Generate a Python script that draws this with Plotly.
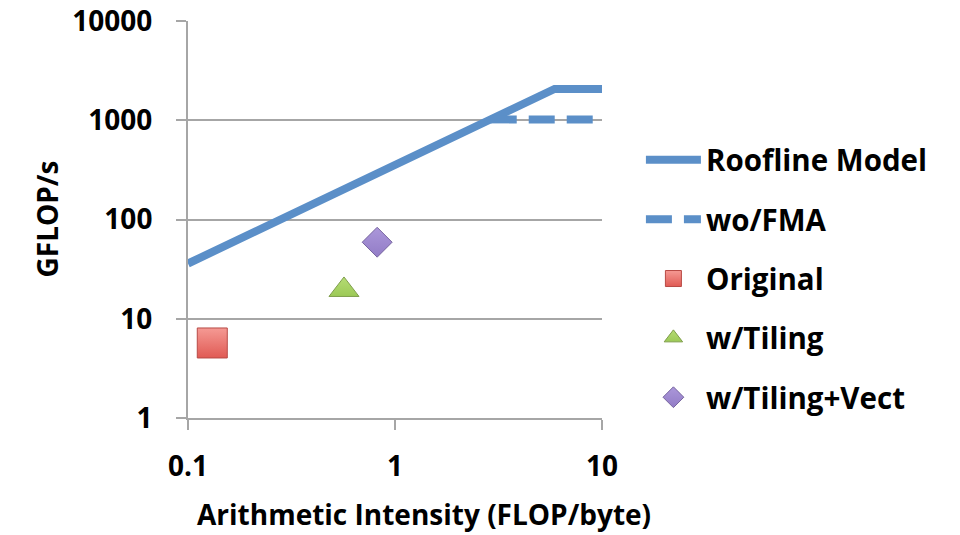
import plotly.graph_objects as go

# Data
roof_x = [0.1, 5.9, 10]
roof_y = [36, 2070, 2070]
nofma_x = [2.9, 10]
nofma_y = [1020, 1020]
orig_x, orig_y = [0.131], [5.7]
tile_x, tile_y = [0.567], [19.5]
vect_x, vect_y = [0.82], [59.0]

x_ticks = [0.1, 1, 10]
x_ticktext = ["0.1", "1", "10"]
y_ticks = [1, 10, 100, 1000, 10000]
y_ticktext = ["1", "10", "100", "1000", "10000"]
x_title = "Arithmetic Intensity (FLOP/byte)"
y_title = "GFLOP/s"

BLUE = "#5b8fc8"
FONT = "Open Sans"

fig = go.Figure()
fig.add_trace(go.Scatter(x=roof_x, y=roof_y, mode="lines", name="Roofline Model",
                         legendgroup="a",
                         line=dict(color=BLUE, width=8)))
fig.add_trace(go.Scatter(x=nofma_x, y=nofma_y, mode="lines", name="wo/FMA",
                         legendgroup="b",
                         line=dict(color=BLUE, width=8, dash="26px,12px")))
fig.add_trace(go.Scatter(x=orig_x, y=orig_y, mode="markers", name="Original",
                         legendgroup="c",
                         marker=dict(symbol="square", size=30, color="#f59a94",
                                     gradient=dict(type="vertical", color="#e05a54"),
                                     line=dict(color="#b84a45", width=1))))
fig.add_trace(go.Scatter(x=tile_x, y=tile_y, mode="markers", name="w/Tiling",
                         legendgroup="d",
                         marker=dict(symbol="triangle-up", size=26, color="#b5dc74",
                                     gradient=dict(type="vertical", color="#9cc956"),
                                     line=dict(color="#7f9e4c", width=1))))
fig.add_trace(go.Scatter(x=vect_x, y=vect_y, mode="markers", name="w/Tiling+Vect",
                         legendgroup="e",
                         marker=dict(symbol="diamond", size=23, color="#ab97da",
                                     gradient=dict(type="vertical", color="#927cc6"),
                                     line=dict(color="#76649f", width=1))))

fig.update_layout(
    width=960, height=535,
    margin=dict(l=188, r=358, t=21, b=117, autoexpand=False),
    paper_bgcolor="white", plot_bgcolor="white",
    font=dict(family=FONT, size=26, color="black", weight="bold"),
    legend=dict(x=1.094, y=0.715, xanchor="left", yanchor="top",
                font=dict(family=FONT, size=29.5, color="black", weight="bold"),
                itemwidth=55,
                tracegroupgap=18, bgcolor="rgba(0,0,0,0)"),
    showlegend=True,
    annotations=[
        dict(text=x_title, xref="paper", yref="paper", x=0.570, y=-0.242,
             xanchor="center", yanchor="middle", showarrow=False,
             font=dict(family=FONT, size=28, color="black", weight="bold")),
        dict(text=y_title, xref="paper", yref="paper", x=(46 - 188) / 414, y=0.5,
             xanchor="center", yanchor="middle", showarrow=False, textangle=-90,
             font=dict(family=FONT, size=28, color="black", weight="bold")),
    ],
)
fig.update_xaxes(type="log", range=[-1, 1], tickvals=x_ticks, ticktext=x_ticktext,
                 showgrid=False, showline=True, linecolor="#a6a6a6", linewidth=2,
                 ticks="outside", ticklen=10, tickwidth=2, tickcolor="#a6a6a6",
                 ticklabelstandoff=12, automargin=False,
                 tickfont=dict(size=28, weight="bold"),
                 zeroline=False)
fig.update_yaxes(type="log", range=[0, 4], tickvals=y_ticks, ticktext=y_ticktext,
                 showgrid=True, gridcolor="#a6a6a6", gridwidth=2,
                 showline=True, linecolor="#a6a6a6", linewidth=2,
                 ticks="outside", ticklen=10, tickwidth=2, tickcolor="#a6a6a6",
                 ticklabelstandoff=18, automargin=False,
                 tickfont=dict(size=28, weight="bold"),
                 zeroline=False)

fig.write_html("out.html", config={"displayModeBar": False},
               post_script="document.body.style.margin='0px';")
